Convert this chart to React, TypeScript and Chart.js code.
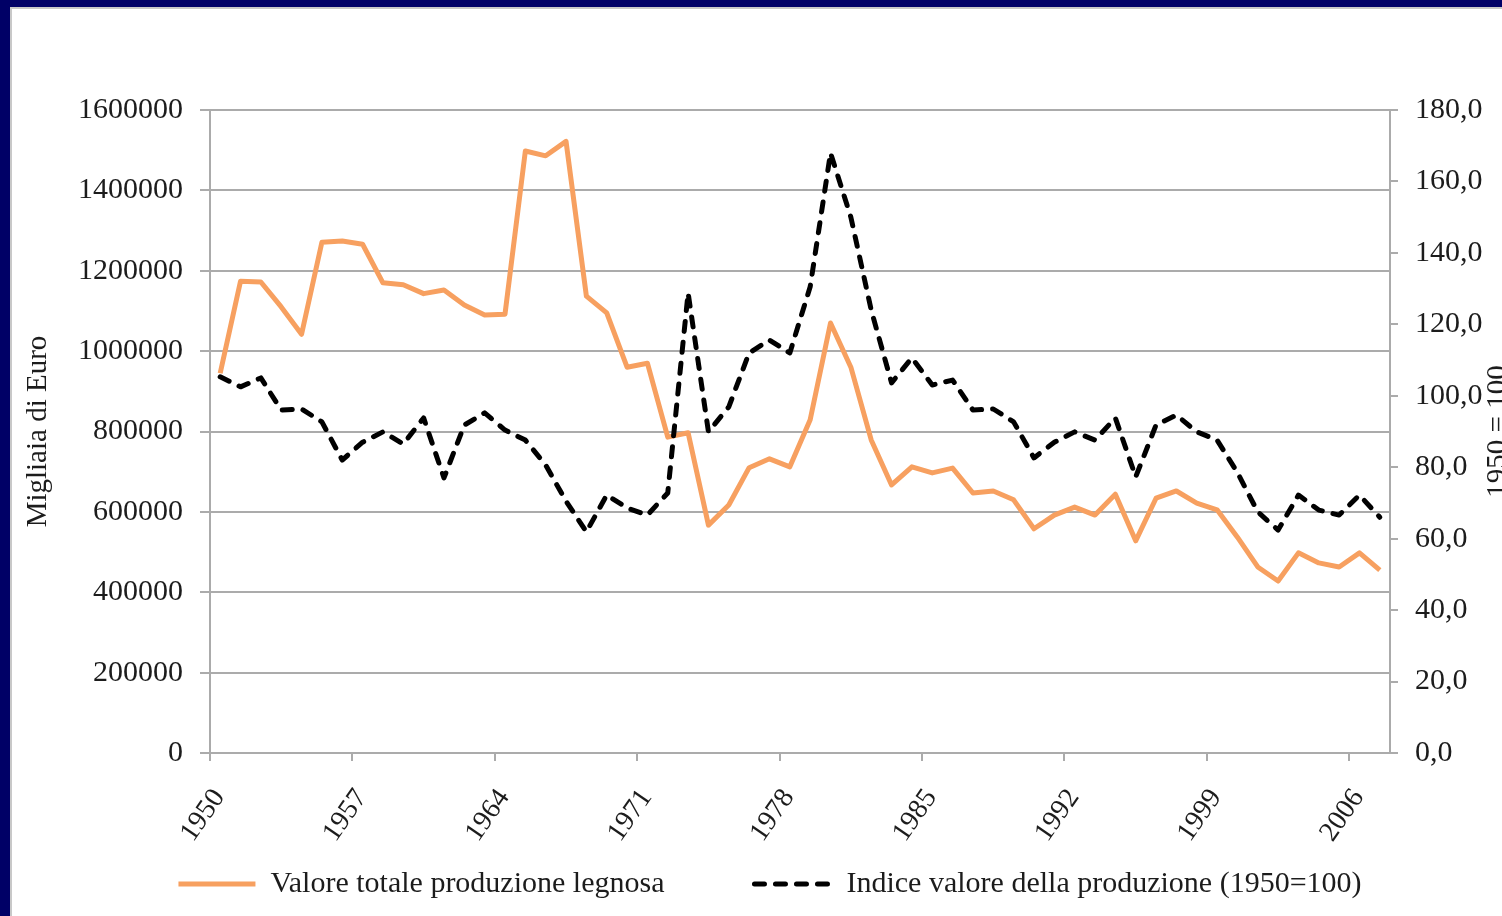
import React, { useEffect, useRef } from 'react';
import { Chart, registerables } from 'chart.js';

Chart.register(...registerables);

// ---- data ----
const years = [
  1950, 1951, 1952, 1953, 1954, 1955, 1956, 1957, 1958, 1959,
  1960, 1961, 1962, 1963, 1964, 1965, 1966, 1967, 1968, 1969,
  1970, 1971, 1972, 1973, 1974, 1975, 1976, 1977, 1978, 1979,
  1980, 1981, 1982, 1983, 1984, 1985, 1986, 1987, 1988, 1989,
  1990, 1991, 1992, 1993, 1994, 1995, 1996, 1997, 1998, 1999,
  2000, 2001, 2002, 2003, 2004, 2005, 2006, 2007,
];

// Valore totale produzione legnosa (migliaia di euro)
const valoreTotale = [
  945000, 1174000, 1172000, 1110000, 1042000, 1271000, 1274000, 1266000, 1170000, 1165000,
  1143000, 1152000, 1115000, 1090000, 1092000, 1498000, 1486000, 1522000, 1137000, 1095000,
  960000, 970000, 786000, 797000, 567000, 617000, 710000, 732000, 712000, 829000,
  1070000, 960000, 779000, 667000, 712000, 697000, 709000, 647000, 652000, 630000,
  558000, 592000, 612000, 592000, 644000, 528000, 634000, 652000, 622000, 605000,
  537000, 463000, 428000, 498000, 473000, 463000, 498000, 455000,
];

// Indice valore della produzione (1950=100)
const indiceValore = [
  105.3, 102.5, 105.0, 96.0, 96.3, 92.7, 82.0, 87.0, 89.9, 86.5,
  93.8, 77.0, 91.8, 95.2, 90.4, 87.6, 80.6, 70.5, 61.9, 72.2,
  68.6, 66.6, 72.8, 128.8, 89.9, 96.9, 112.0, 115.6, 112.0, 130.5,
  168.0, 150.0, 124.0, 103.6, 110.6, 103.0, 104.4, 96.0, 96.3, 92.7,
  82.6, 87.0, 89.9, 87.6, 93.8, 77.3, 91.8, 94.6, 89.9, 87.6,
  78.5, 67.5, 62.4, 72.2, 68.0, 66.6, 72.2, 66.0,
];

const xTickYears = [1950, 1957, 1964, 1971, 1978, 1985, 1992, 1999, 2006];
const leftTickLabels = ['0', '200000', '400000', '600000', '800000', '1000000', '1200000', '1400000', '1600000'];
const rightTickLabels = ['0,0', '20,0', '40,0', '60,0', '80,0', '100,0', '120,0', '140,0', '160,0', '180,0'];

const seriesNames = ['Valore totale produzione legnosa', 'Indice valore della produzione (1950=100)'];
const leftAxisTitle = 'Migliaia di Euro';
const rightAxisTitle = '1950 = 100';

// ---- styles ----
const FONT = '"Liberation Serif", "Times New Roman", serif';
const TEXT = '#1c1c1c';
const GRID = '#ababab';
const ORANGE = '#F7A060';
const CANVAS_W = 1516;
const CANVAS_H = 907;

const isLabeledIndex = (i: number) => i >= 0 && i < years.length && xTickYears.includes(years[i]);

const rightTitlePlugin = {
  id: 'rightTitle',
  afterDraw(chart: any) {
    const ctx = chart.ctx;
    const area = chart.chartArea;
    ctx.save();
    ctx.font = `29px ${FONT}`;
    ctx.fillStyle = TEXT;
    ctx.translate(1494, (area.top + area.bottom) / 2);
    ctx.rotate(-Math.PI / 2);
    ctx.textAlign = 'center';
    ctx.textBaseline = 'alphabetic';
    ctx.fillText(rightAxisTitle, 0, 0);
    ctx.restore();
  },
};

export default function App() {
  const canvasRef = useRef<HTMLCanvasElement | null>(null);

  useEffect(() => {
    const canvas = canvasRef.current;
    if (!canvas) return;
    const chart = new Chart(canvas, {
      type: 'line',
      data: {
        labels: years.map(String),
        datasets: [
          {
            label: seriesNames[0],
            data: valoreTotale,
            borderColor: ORANGE,
            backgroundColor: ORANGE,
            borderWidth: 5,
            borderJoinStyle: 'round',
            borderCapStyle: 'butt',
            pointRadius: 0,
            tension: 0,
            yAxisID: 'y',
            order: 1,
          },
          {
            label: seriesNames[1],
            data: indiceValore,
            borderColor: '#000000',
            backgroundColor: '#000000',
            borderWidth: 5,
            borderDash: [10, 11],
            borderCapStyle: 'round',
            borderJoinStyle: 'round',
            pointRadius: 0,
            tension: 0,
            yAxisID: 'y1',
            order: 0,
          },
        ],
      },
      options: {
        responsive: false,
        maintainAspectRatio: false,
        animation: false,
        devicePixelRatio: 1,
        layout: { padding: { top: 101, bottom: 7, left: 0, right: 0 } },
        plugins: {
          tooltip: { enabled: false },
          legend: {
            position: 'bottom',
            align: 'center',
            labels: {
              usePointStyle: true,
              pointStyle: 'line',
              pointStyleWidth: 77,
              padding: 90,
              color: TEXT,
              font: { family: FONT, size: 30 },
              sort: (a: any, b: any) => a.datasetIndex - b.datasetIndex,
              generateLabels: (c: any) => {
                const items = (Chart as any).defaults.plugins.legend.labels.generateLabels(c);
                items.forEach((it: any) => {
                  const ds = c.data.datasets[it.datasetIndex];
                  it.lineDash = ds.borderDash || [];
                  it.lineCap = ds.borderCapStyle;
                  it.lineWidth = ds.borderWidth;
                  it.strokeStyle = ds.borderColor;
                  it.lineDashOffset = 0;
                  it.rotation = 180;
                });
                return items;
              },
            },
          },
        },
        scales: {
          x: {
            type: 'category',
            offset: true,
            afterFit: (s: any) => {
              s.height = 26;
              // let the rotated year labels extend below the (short) axis box
              s._computeLabelArea = () => undefined;
            },
            grid: {
              offset: true,
              drawOnChartArea: false,
              drawTicks: true,
              tickLength: 8,
              lineWidth: 2,
              color: GRID,
              tickColor: (ctx: any) => (isLabeledIndex(ctx.index) ? GRID : 'rgba(0,0,0,0)'),
            },
            border: { display: true, color: GRID, width: 2 },
            ticks: {
              autoSkip: false,
              minRotation: 55,
              maxRotation: 55,
              padding: 22,
              labelOffset: -1,
              color: TEXT,
              font: { family: FONT, size: 28 },
              callback: (_v: any, i: number) => (isLabeledIndex(i) ? String(years[i]) : ''),
            },
          },
          y: {
            type: 'linear',
            position: 'left',
            min: 0,
            max: 1600000,
            afterFit: (s: any) => {
              s.width = 198;
            },
            grid: { color: GRID, lineWidth: 2, tickLength: 10 },
            border: { display: true, color: GRID, width: 2 },
            ticks: {
              stepSize: 200000,
              padding: 17,
              color: TEXT,
              font: { family: FONT, size: 30 },
              callback: (_v: any, i: number) => leftTickLabels[i],
            },
            title: {
              display: true,
              text: leftAxisTitle,
              color: TEXT,
              font: { family: FONT, size: 29, lineHeight: 1.2 },
              padding: { top: 8.6, bottom: 0 },
            },
          },
          y1: {
            type: 'linear',
            position: 'right',
            min: 0,
            max: 180,
            afterFit: (s: any) => {
              s.width = CANVAS_W - 1378;
            },
            grid: { drawOnChartArea: false, color: GRID, lineWidth: 2, tickLength: 8 },
            border: { display: true, color: GRID, width: 2 },
            ticks: {
              stepSize: 20,
              padding: 17,
              color: TEXT,
              font: { family: FONT, size: 30 },
              callback: (_v: any, i: number) => rightTickLabels[i],
            },
          },
        },
      },
      plugins: [rightTitlePlugin],
    } as any);
    return () => chart.destroy();
  }, []);

  return (
    <div
      style={{
        position: 'fixed',
        left: 0,
        top: 0,
        width: 1502,
        height: 916,
        background: '#000066',
        overflow: 'hidden',
      }}
    >
      <div
        style={{
          position: 'absolute',
          left: 10,
          top: 7,
          width: 1540,
          height: 960,
          background: '#ffffff',
          borderLeft: '2px solid #c8c8c8',
          borderTop: '2px solid #c8c8c8',
        }}
      >
        <canvas
          ref={canvasRef}
          width={CANVAS_W}
          height={CANVAS_H}
          style={{ position: 'absolute', left: 0, top: 0, width: CANVAS_W, height: CANVAS_H }}
        />
      </div>
    </div>
  );
}
